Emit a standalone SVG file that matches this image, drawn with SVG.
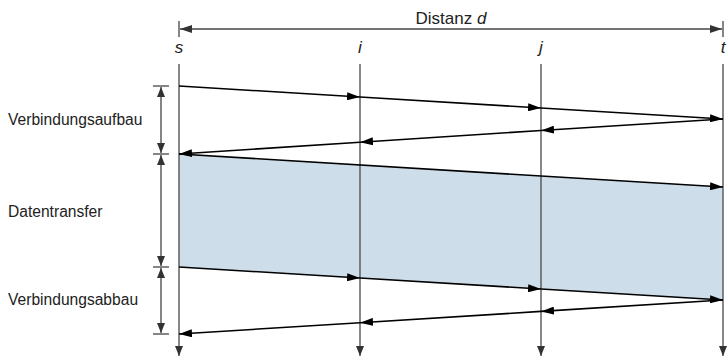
<svg xmlns="http://www.w3.org/2000/svg" width="727" height="361" viewBox="0 0 727 361">
<style>
text{font-family:"Liberation Sans",Arial,sans-serif;fill:#222}
.lbl{font-size:15.6px}
.node{font-size:17px;font-style:italic;text-anchor:middle}
.life{stroke:#555;stroke-width:1.4;fill:none}
.msg{stroke:#000;stroke-width:1.6;fill:none}
.dim{stroke:#444;stroke-width:1.3;fill:none}
</style>
<defs>
<marker id="ah" viewBox="0 0 13 8" refX="13" refY="4" markerWidth="13" markerHeight="8" markerUnits="userSpaceOnUse" orient="auto"><path d="M0,0 L13,4 L0,8 z" fill="#000"/></marker>
<marker id="lh" viewBox="0 0 8 10" refX="4" refY="10" markerWidth="8" markerHeight="10" markerUnits="userSpaceOnUse" orient="0"><path d="M0,0 L8,0 L4,10 z" fill="#333"/></marker>
<marker id="dh" viewBox="0 0 10 8" refX="10" refY="4" markerWidth="10" markerHeight="8" markerUnits="userSpaceOnUse" orient="auto-start-reverse"><path d="M0,0 L10,4 L0,8 z" fill="#333"/></marker>
<marker id="th" viewBox="0 0 12 8" refX="12" refY="4" markerWidth="12" markerHeight="8" markerUnits="userSpaceOnUse" orient="auto-start-reverse"><path d="M0,0 L12,4 L0,8 z" fill="#333"/></marker>
</defs>

<polygon points="179,154 723,187 723,300 179,267" fill="#cddde9"/>

<g id="distance">
<line class="dim" x1="179" y1="21" x2="179" y2="37"/>
<line class="dim" x1="723" y1="21" x2="723" y2="37"/>
<line class="dim" x1="180" y1="29" x2="722" y2="29" marker-start="url(#th)" marker-end="url(#th)"/>
<text x="451" y="24" font-size="17" text-anchor="middle">Distanz <tspan font-style="italic">d</tspan></text>
</g>

<g id="node-s">
<text class="node" x="179" y="53">s</text>
<line class="life" x1="179" y1="64" x2="179" y2="356" marker-end="url(#lh)"/>
</g>
<g id="node-i">
<text class="node" x="360" y="53">i</text>
<line class="life" x1="360" y1="64" x2="360" y2="356" marker-end="url(#lh)"/>
</g>
<g id="node-j">
<text class="node" x="541" y="53">j</text>
<line class="life" x1="541" y1="64" x2="541" y2="356" marker-end="url(#lh)"/>
</g>
<g id="node-t">
<text class="node" x="723" y="53">t</text>
<line class="life" x1="723" y1="64" x2="723" y2="356" marker-end="url(#lh)"/>
</g>

<g id="connectors">
<line class="msg" x1="179" y1="86" x2="360" y2="97" marker-end="url(#ah)"/>
<line class="msg" x1="360" y1="97" x2="541" y2="108" marker-end="url(#ah)"/>
<line class="msg" x1="541" y1="108" x2="723" y2="119" marker-end="url(#ah)"/>

<line class="msg" x1="723" y1="119" x2="541" y2="130.5" marker-end="url(#ah)"/>
<line class="msg" x1="541" y1="130.5" x2="360" y2="142.2" marker-end="url(#ah)"/>
<line class="msg" x1="360" y1="142.2" x2="179" y2="154" marker-end="url(#ah)"/>

<line class="msg" x1="179" y1="154" x2="723" y2="187" marker-end="url(#ah)"/>

<line class="msg" x1="179" y1="267" x2="360" y2="278" marker-end="url(#ah)"/>
<line class="msg" x1="360" y1="278" x2="541" y2="289" marker-end="url(#ah)"/>
<line class="msg" x1="541" y1="289" x2="723" y2="300" marker-end="url(#ah)"/>

<line class="msg" x1="723" y1="300" x2="541" y2="311.4" marker-end="url(#ah)"/>
<line class="msg" x1="541" y1="311.4" x2="360" y2="322.7" marker-end="url(#ah)"/>
<line class="msg" x1="360" y1="322.7" x2="179" y2="334" marker-end="url(#ah)"/>
</g>

<g id="phases">
<line class="dim" x1="153" y1="86" x2="169" y2="86"/>
<line class="dim" x1="153" y1="154" x2="169" y2="154"/>
<line class="dim" x1="153" y1="267" x2="169" y2="267"/>
<line class="dim" x1="153" y1="334" x2="169" y2="334"/>
<line class="dim" x1="161" y1="87" x2="161" y2="153" marker-start="url(#dh)" marker-end="url(#dh)"/>
<line class="dim" x1="161" y1="155" x2="161" y2="266" marker-start="url(#dh)" marker-end="url(#dh)"/>
<line class="dim" x1="161" y1="268" x2="161" y2="333" marker-start="url(#dh)" marker-end="url(#dh)"/>
<text class="lbl" x="8" y="124.5">Verbindungsaufbau</text>
<text class="lbl" x="8" y="216.5">Datentransfer</text>
<text class="lbl" x="8" y="305">Verbindungsabbau</text>
</g>
</svg>
